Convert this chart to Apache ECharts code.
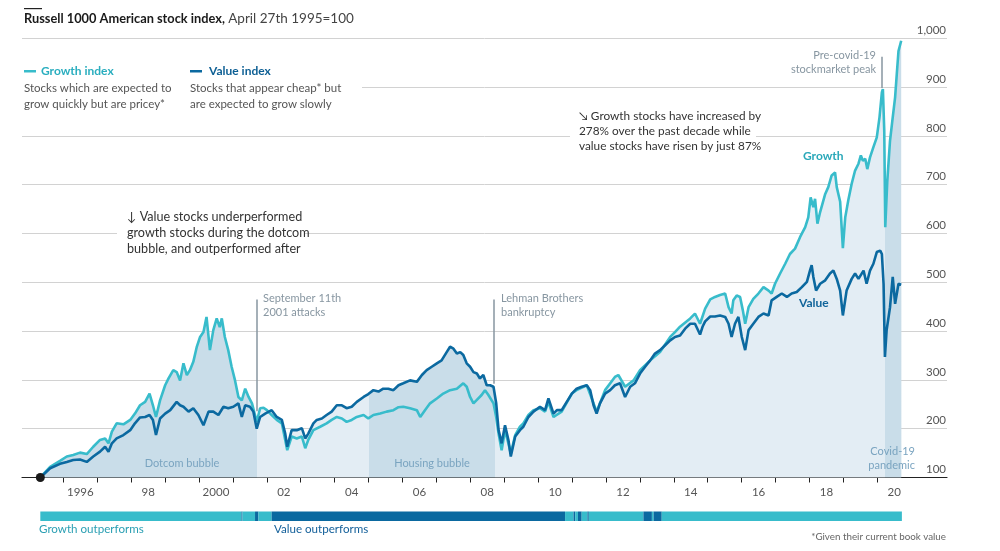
<!DOCTYPE html>
<html><head><meta charset="utf-8">
<script src="https://cdn.jsdelivr.net/npm/echarts@6/dist/echarts.min.js"></script>
<style>html,body{margin:0;padding:0;background:#fff}#c{width:1000px;height:551px}</style>
</head><body><div id="c"></div>
<script>
// ---------- DATA (decimal years, index April 27th 1995 = 100) ----------
const growthDates = [1995.32,1995.61,1995.90,1996.10,1996.29,1996.49,1996.69,1996.88,1997.08,1997.23,1997.33,1997.43,1997.57,1997.77,1997.97,1998.11,1998.26,1998.41,1998.54,1998.64,1998.73,1998.85,1999.00,1999.10,1999.24,1999.34,1999.44,1999.54,1999.64,1999.73,1999.83,1999.93,2000.03,2000.13,2000.22,2000.32,2000.42,2000.52,2000.61,2000.67,2000.76,2000.86,2000.96,2001.06,2001.16,2001.26,2001.36,2001.46,2001.56,2001.70,2001.80,2001.90,2002.00,2002.14,2002.29,2002.44,2002.54,2002.60,2002.73,2002.88,2003.03,2003.13,2003.22,2003.37,2003.57,2003.76,2003.91,2004.06,2004.21,2004.35,2004.50,2004.65,2004.85,2004.99,2005.14,2005.34,2005.53,2005.73,2005.88,2006.02,2006.22,2006.42,2006.52,2006.66,2006.81,2007.01,2007.20,2007.40,2007.60,2007.79,2007.89,2007.99,2008.09,2008.19,2008.33,2008.43,2008.53,2008.58,2008.68,2008.76,2008.83,2008.92,2009.02,2009.12,2009.19,2009.32,2009.46,2009.56,2009.71,2009.86,2010.05,2010.20,2010.30,2010.45,2010.69,2010.99,2011.13,2011.43,2011.63,2011.72,2011.97,2012.26,2012.36,2012.56,2012.81,2013.00,2013.30,2013.59,2013.89,2014.03,2014.18,2014.48,2014.62,2014.77,2014.92,2015.07,2015.21,2015.36,2015.51,2015.61,2015.70,2015.75,2015.85,2015.95,2016.03,2016.10,2016.20,2016.34,2016.49,2016.64,2016.79,2016.88,2016.98,2017.13,2017.28,2017.42,2017.57,2017.72,2017.87,2017.96,2018.03,2018.11,2018.16,2018.23,2018.31,2018.46,2018.55,2018.65,2018.75,2018.80,2018.90,2018.98,2019.05,2019.14,2019.24,2019.34,2019.44,2019.51,2019.57,2019.64,2019.70,2019.78,2019.88,2019.98,2020.06,2020.13,2020.16,2020.20,2020.23,2020.29,2020.37,2020.45,2020.52,2020.57,2020.62,2020.70];
const growthValues = [100,122,134,143,146,151,148,163,177,180,170,194,211,209,218,231,248,255,272,248,224,258,289,303,320,316,299,334,310,320,337,367,388,398,429,361,402,426,408,426,388,361,327,299,265,258,282,265,252,214,242,243,238,228,218,211,177,156,184,180,184,160,177,197,204,211,218,224,221,214,218,224,228,221,228,231,235,238,244,245,242,238,224,238,252,262,272,279,282,293,286,265,252,259,269,279,269,270,252,224,190,156,197,170,149,187,204,211,228,238,242,235,255,224,235,272,279,289,252,235,279,306,310,286,299,320,340,357,388,398,409,426,436,415,446,465,470,474,477,449,436,463,473,470,443,415,449,466,477,490,483,477,497,518,538,558,569,593,613,633,674,654,671,620,644,681,695,719,725,695,665,570,633,668,702,729,743,760,749,753,732,756,777,797,838,889,896,811,613,708,790,838,879,927,974,995];

const valueDates = [1995.32,1995.61,1995.90,1996.10,1996.29,1996.49,1996.69,1996.88,1997.08,1997.23,1997.33,1997.43,1997.57,1997.77,1997.97,1998.11,1998.26,1998.41,1998.54,1998.64,1998.73,1998.85,1999.00,1999.15,1999.34,1999.44,1999.54,1999.69,1999.83,1999.98,2000.13,2000.28,2000.42,2000.57,2000.72,2000.86,2001.01,2001.16,2001.26,2001.36,2001.50,2001.60,2001.70,2001.80,2001.95,2002.14,2002.29,2002.44,2002.54,2002.60,2002.73,2002.88,2003.03,2003.13,2003.22,2003.37,2003.47,2003.62,2003.76,2003.91,2004.06,2004.21,2004.35,2004.50,2004.65,2004.85,2004.99,2005.14,2005.29,2005.43,2005.58,2005.73,2005.88,2006.02,2006.22,2006.42,2006.57,2006.71,2006.86,2007.01,2007.15,2007.30,2007.40,2007.50,2007.60,2007.70,2007.79,2007.89,2007.99,2008.09,2008.19,2008.28,2008.38,2008.48,2008.58,2008.68,2008.76,2008.83,2008.92,2009.02,2009.12,2009.19,2009.32,2009.46,2009.56,2009.71,2009.86,2010.05,2010.20,2010.30,2010.45,2010.55,2010.69,2010.84,2010.99,2011.13,2011.28,2011.43,2011.53,2011.63,2011.72,2011.82,2011.97,2012.12,2012.26,2012.41,2012.56,2012.71,2012.85,2013.00,2013.15,2013.30,2013.44,2013.59,2013.74,2013.89,2014.03,2014.18,2014.33,2014.48,2014.62,2014.77,2014.85,2014.92,2015.07,2015.21,2015.36,2015.51,2015.61,2015.70,2015.80,2015.90,2016.00,2016.10,2016.20,2016.34,2016.49,2016.64,2016.79,2016.88,2017.03,2017.18,2017.33,2017.47,2017.62,2017.77,2017.92,2018.01,2018.06,2018.11,2018.19,2018.31,2018.46,2018.60,2018.70,2018.80,2018.90,2018.98,2019.09,2019.24,2019.34,2019.44,2019.59,2019.68,2019.78,2019.88,2019.98,2020.08,2020.13,2020.18,2020.22,2020.27,2020.37,2020.45,2020.52,2020.62,2020.70];
const valueValues = [100,119,128,132,136,137,132,143,153,163,153,170,180,187,197,211,223,224,228,218,187,221,231,238,255,248,245,235,242,228,207,235,235,228,245,242,245,252,224,248,245,235,200,224,231,238,224,218,190,163,197,197,201,180,190,211,218,221,228,235,248,248,242,245,255,265,271,279,276,282,282,279,289,293,299,296,310,320,327,334,340,357,368,364,354,357,351,334,327,316,313,303,310,289,289,286,252,197,170,207,177,143,184,197,204,224,235,245,238,262,231,238,238,255,272,282,286,289,279,248,231,252,272,279,289,293,265,286,293,313,327,340,354,361,371,381,388,391,405,415,415,393,410,420,430,430,432,429,415,388,415,429,388,361,402,415,429,436,432,463,470,477,470,477,480,490,501,524,535,511,483,497,504,518,524,507,483,432,483,507,518,507,524,497,524,538,562,565,558,497,347,402,449,511,456,497,495];

// Periods shaded on the chart
const bubbleNames = ['Dotcom bubble', 'Housing bubble', 'Covid-19 pandemic'];
const bubbleStarts = [1995.32, 2005.01, 2020.22];
const bubbleEnds = [2001.72, 2008.72, 2020.72];

// Bottom bar: which style outperforms (0 = growth, 1 = value)
const barStarts = [1995.32,2001.25,2001.28,2001.65,2001.75,2002.14,2010.79,2011.04,2011.09,2011.17,2011.28,2011.45,2011.49,2013.10,2013.35,2013.40,2013.64];
const barEnds   = [2001.25,2001.28,2001.65,2001.75,2002.14,2010.79,2011.04,2011.09,2011.17,2011.28,2011.45,2011.49,2013.10,2013.35,2013.40,2013.64,2020.72];
const barTypes  = [0,1,0,1,0,1,0,1,0,1,0,1,0,1,0,1,0];

// Event markers [date, top value, bottom value]
const events = [[2001.70, 465, 236], [2008.70, 465, 292], [2020.13, 962, 898]];

// ---------- STYLE ----------
const FONT = 'Lato, "Open Sans", "DejaVu Sans", sans-serif';
const G = '#38bccb', V = '#0b69a0';
const LIGHT = '#e3edf4', DARK = '#c9dde9';
const X_MIN = 1994.78, X_MAX = 2022.05;

const gSeries = growthDates.map((d, i) => [d, growthValues[i]]);
const vSeries = valueDates.map((d, i) => [d, valueValues[i]]);
const barData = barStarts.map((s, i) => [s, barEnds[i], barTypes[i]]);

const pieces = [];
let prev = null;
bubbleStarts.forEach((s, i) => {
  pieces.push({ gte: prev === null ? -Infinity : prev, lt: s, color: LIGHT });
  pieces.push({ gte: s, lt: bubbleEnds[i], color: DARK });
  prev = bubbleEnds[i];
});
pieces.push({ gte: prev, color: LIGHT });

function txt(x, y, text, opt) {
  return Object.assign({ type: 'text', x: x, y: y, z: 20, silent: true,
    style: Object.assign({ text: text, fill: '#444', font: '11.5px ' + FONT, verticalAlign: 'middle', align: 'left' }, opt || {}) });
}
function whiteBox(x, y, w, h) {
  return { type: 'rect', z: 15, silent: true, shape: { x: x, y: y, width: w, height: h }, style: { fill: '#fff' } };
}
const GREY = '#8796a1', BUB = '#7aa4c0';

const chart = echarts.init(document.getElementById('c'), null, { renderer: 'canvas' });
chart.setOption({
  animation: false,
  backgroundColor: '#fff',
  grid: [
    { left: 22, right: 53, top: 38.3, bottom: 73.5 },
    { left: 63.3, right: 98.3, top: 38.3, bottom: 73.5 },
    { left: 22, right: 53, top: 511.5, height: 9.5 }
  ],
  xAxis: [
    { gridIndex: 0, type: 'value', min: X_MIN, max: X_MAX, axisLine: { show: true, onZero: false, lineStyle: { color: '#222', width: 1.2 } }, axisTick: { show: false }, axisLabel: { show: false }, splitLine: { show: false } },
    { gridIndex: 1, type: 'value', min: 1996, max: 2020.72, interval: 1, axisLine: { show: false }, splitLine: { show: false },
      axisTick: { show: true, length: 5, lineStyle: { color: '#222', width: 1 } },
      axisLabel: { show: true, margin: 9, color: '#555', fontSize: 11.5, fontFamily: FONT, padding: [0, 0, 0, 34], showMaxLabel: false,
        formatter: function (v) {
          if (Math.abs(v - Math.round(v)) > 1e-6) return '';
          const y = Math.round(v);
          if (y % 2) return '';
          return (y === 1996 || y === 2000) ? String(y) : String(y).slice(2);
        } } },
    { gridIndex: 2, type: 'value', min: X_MIN, max: X_MAX, show: false }
  ],
  yAxis: [
    { gridIndex: 0, type: 'value', min: 100, max: 1000, interval: 100, position: 'right', axisLine: { show: false }, axisTick: { show: false },
      splitLine: { show: true, lineStyle: { color: '#d2d2d2', width: 1 } },
      axisLabel: { inside: true, margin: 1, verticalAlign: 'bottom', padding: [0, 0, 2, 0], color: '#555', fontSize: 11.5, fontFamily: FONT,
        formatter: v => v.toLocaleString('en-US') } },
    { gridIndex: 1, type: 'value', min: 100, max: 1000, show: false },
    { gridIndex: 2, type: 'value', min: 0, max: 1, show: false }
  ],
  visualMap: [{ type: 'piecewise', show: false, dimension: 0, seriesIndex: [0, 1], pieces: pieces }],
  series: [
    { type: 'line', data: gSeries, showSymbol: false, silent: true, z: 1, lineStyle: { width: 0 }, areaStyle: { opacity: 1 } },
    { type: 'line', data: vSeries, showSymbol: false, silent: true, z: 1, lineStyle: { width: 0 }, areaStyle: { opacity: 1 } },
    { type: 'line', data: gSeries, showSymbol: false, silent: true, z: 3, color: G, lineStyle: { width: 2.6, color: G } },
    { type: 'line', data: vSeries, showSymbol: false, silent: true, z: 4, color: V, lineStyle: { width: 2.6, color: V },
      markLine: { silent: true, symbol: ['circle', 'none'], symbolSize: [4, 0], animation: false,
        lineStyle: { color: GREY, width: 1.5, type: 'solid' }, label: { show: false },
        data: events.map(e => [{ coord: [e[0], e[1]] }, { coord: [e[0], e[2]] }]) },
      markPoint: { silent: true, symbol: 'circle', symbolSize: 9, itemStyle: { color: '#1a1a1a' }, label: { show: false },
        data: [{ coord: [growthDates[0], 100] }] } },
    { type: 'custom', xAxisIndex: 2, yAxisIndex: 2, silent: true, data: barData, encode: { x: [0, 1] },
      renderItem: function (params, api) {
        const s = api.coord([api.value(0), 0]);
        const e = api.coord([api.value(1), 1]);
        return { type: 'rect', shape: { x: s[0], y: e[1], width: e[0] - s[0], height: s[1] - e[1] },
          style: { fill: api.value(2) === 0 ? G : V } };
      } }
  ],
  graphic: [
    { type: 'rect', z: 20, shape: { x: 24, y: 8, width: 18, height: 1.2 }, style: { fill: '#222' } },
    { type: 'text', x: 24, y: 19, z: 20, style: { text: '{b|Russell 1000 American stock index,} {n|April 27th 1995=100}', verticalAlign: 'middle',
        rich: { b: { font: 'bold 12.8px ' + FONT, fill: '#1a1a1a' }, n: { font: '13.5px ' + FONT, fill: '#444' } } } },
    whiteBox(22, 60, 340, 54),
    { type: 'rect', z: 20, shape: { x: 24, y: 70, width: 12, height: 2.5 }, style: { fill: G } },
    txt(41, 71, 'Growth index', { fill: '#2aaebf', font: 'bold 12px ' + FONT }),
    txt(24, 88, 'Stocks which are expected to', { fill: '#555' }),
    txt(24, 104, 'grow quickly but are pricey*', { fill: '#555' }),
    { type: 'rect', z: 20, shape: { x: 190, y: 70, width: 12, height: 2.5 }, style: { fill: V } },
    txt(209, 71, 'Value index', { fill: '#0d5f94', font: 'bold 12px ' + FONT }),
    txt(190, 88, 'Stocks that appear cheap* but', { fill: '#555' }),
    txt(190, 104, 'are expected to grow slowly', { fill: '#555' }),
    whiteBox(117, 206, 188, 52),
    txt(127, 216.5, '\u2193 Value stocks underperformed', { fill: '#333', font: '12.6px ' + FONT }),
    txt(127, 232.5, 'growth stocks during the dotcom', { fill: '#333', font: '12.6px ' + FONT }),
    txt(127, 248.5, 'bubble, and outperformed after', { fill: '#333', font: '12.6px ' + FONT }),
    whiteBox(570, 106, 186, 50),
    txt(579, 116.5, '\u2198 Growth stocks have increased by', { fill: '#333', font: '11.8px ' + FONT }),
    txt(579, 131.5, '278% over the past decade while', { fill: '#333', font: '11.8px ' + FONT }),
    txt(579, 146.5, 'value stocks have risen by just 87%', { fill: '#333', font: '11.8px ' + FONT }),
    txt(263, 298.5, 'September 11th', { fill: GREY, font: '11px ' + FONT }),
    txt(263, 312.5, '2001 attacks', { fill: GREY, font: '11px ' + FONT }),
    txt(501, 298.5, 'Lehman Brothers', { fill: GREY, font: '11px ' + FONT }),
    txt(501, 312.5, 'bankruptcy', { fill: GREY, font: '11px ' + FONT }),
    txt(876, 55, 'Pre-covid-19', { fill: GREY, font: '11px ' + FONT, align: 'right' }),
    txt(876, 69.5, 'stockmarket peak', { fill: GREY, font: '11px ' + FONT, align: 'right' }),
    txt(803, 156, 'Growth', { fill: '#2aa8b9', font: 'bold 12px ' + FONT }),
    txt(799, 303.5, 'Value', { fill: '#10649a', font: 'bold 12px ' + FONT }),
    txt(182, 463, bubbleNames[0], { fill: BUB, font: '11px ' + FONT, align: 'center' }),
    txt(432, 463, bubbleNames[1], { fill: BUB, font: '11px ' + FONT, align: 'center' }),
    txt(915, 451, 'Covid-19', { fill: BUB, font: '11px ' + FONT, align: 'right' }),
    txt(915, 465.5, 'pandemic', { fill: BUB, font: '11px ' + FONT, align: 'right' }),
    txt(39, 529, 'Growth outperforms', { fill: '#2a9fb3', font: '11.6px ' + FONT }),
    txt(274, 529, 'Value outperforms', { fill: '#14609a', font: '11.6px ' + FONT }),
    txt(946, 536.5, '*Given their current book value', { fill: '#666', font: '9.8px ' + FONT, align: 'right' })
  ]
});
</script></body></html>
